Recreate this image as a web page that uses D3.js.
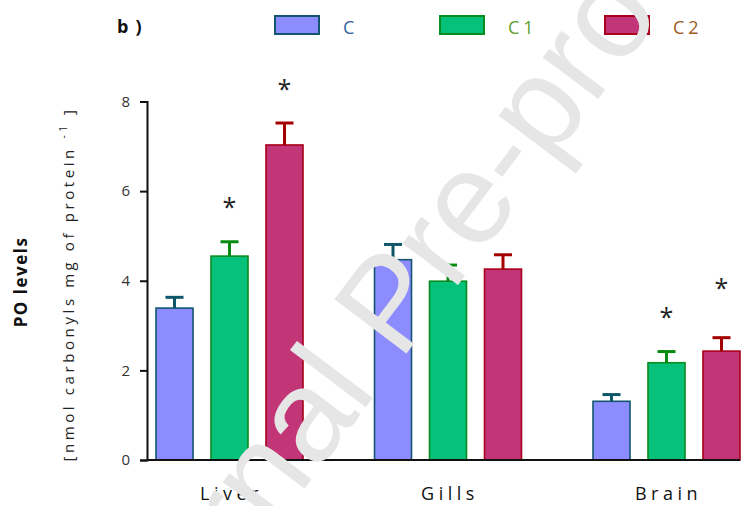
<!DOCTYPE html>
<html>
<head>
<meta charset="utf-8">
<script src="https://cdn.jsdelivr.net/npm/d3@7"></script>
<style>
  body { margin: 0; background: white; }
  svg { display: block; font-family: "Open Sans", sans-serif; }
</style>
</head>
<body>
<div id="chart"></div>
<script>
// tissues and treatment groups
const tissues = ["Liver", "Gills", "Brain"];
const series = ["C", "C1", "C2"];

// PO levels (mean) and error (SE) per series, in tissue order
const valC = [3.39, 4.47, 1.31];
const valC1 = [4.55, 3.99, 2.17];
const valC2 = [7.03, 4.26, 2.43];
const errC = [0.24, 0.34, 0.15];
const errC1 = [0.32, 0.36, 0.25];
const errC2 = [0.49, 0.32, 0.30];

// significance stars: tissue, series, level where the star sits
const starTissue = ["Liver", "Liver", "Brain", "Brain"];
const starSeries = ["C1", "C2", "C1", "C2"];
const starLevel = [5.75, 8.4, 3.3, 3.94];

const yTicks = [0, 2, 4, 6, 8];

const fills = { C: "#8c8cff", C1: "#05c17a", C2: "#c23577" };
const strokes = { C: "#13566e", C1: "#0a8c1e", C2: "#a8001a" };
const errCol = { C: "#0e5668", C1: "#078a10", C2: "#a50000" };
const legendText = { C: "#3465a4", C1: "#5e9e2e", C2: "#9c5a1e" };

const values = { C: valC, C1: valC1, C2: valC2 };
const errors = { C: errC, C1: errC1, C2: errC2 };

const rows = [];
tissues.forEach((t, i) => {
  series.forEach(s => {
    rows.push({ tissue: t, series: s, value: values[s][i], err: errors[s][i] });
  });
});

const width = 742, height = 506;
const svg = d3.select("#chart").append("svg")
  .attr("width", width)
  .attr("height", height);

const y = d3.scaleLinear().domain([0, 8]).range([460, 101.5]);

const x0 = d3.scalePoint().domain(tissues).range([229.5, 666.5]);
const x1 = d3.scaleBand().domain(series).range([-73.5, 73.5]).paddingInner(0.327);

// bars
svg.append("g")
  .selectAll("rect")
  .data(rows)
  .join("rect")
  .attr("x", d => x0(d.tissue) + x1(d.series))
  .attr("y", d => y(d.value))
  .attr("width", x1.bandwidth())
  .attr("height", d => y(0) - y(d.value))
  .attr("fill", d => fills[d.series])
  .attr("stroke", d => strokes[d.series])
  .attr("stroke-width", 1.6);

// error bars (upper only)
const eb = svg.append("g")
  .selectAll("g")
  .data(rows)
  .join("g")
  .attr("stroke", d => errCol[d.series])
  .attr("stroke-width", 3);
eb.append("line")
  .attr("x1", d => x0(d.tissue) + x1(d.series) + x1.bandwidth() / 2)
  .attr("x2", d => x0(d.tissue) + x1(d.series) + x1.bandwidth() / 2)
  .attr("y1", d => y(d.value))
  .attr("y2", d => y(d.value + d.err));
eb.append("line")
  .attr("x1", d => x0(d.tissue) + x1(d.series) + x1.bandwidth() / 2 - 9)
  .attr("x2", d => x0(d.tissue) + x1(d.series) + x1.bandwidth() / 2 + 9)
  .attr("y1", d => y(d.value + d.err))
  .attr("y2", d => y(d.value + d.err));

// stars
svg.append("g")
  .selectAll("text")
  .data(starLevel)
  .join("text")
  .attr("x", (d, i) => x0(starTissue[i]) + x1(starSeries[i]) + x1.bandwidth() / 2)
  .attr("y", d => y(d) + 14)
  .attr("text-anchor", "middle")
  .attr("font-size", 25)
  .attr("fill", "#222")
  .text("*");

// y axis
const yAxis = svg.append("g")
  .attr("transform", "translate(147,0)")
  .call(d3.axisLeft(y).tickValues(yTicks).tickSize(7).tickPadding(10).tickFormat(d3.format("d")));
yAxis.select(".domain").attr("stroke", "#111").attr("stroke-width", 2);
yAxis.selectAll(".tick line").attr("stroke", "#111").attr("stroke-width", 2);
yAxis.selectAll(".tick text")
  .attr("font-size", 15)
  .attr("fill", "#333")
  .attr("font-family", "'Open Sans', sans-serif");

// x axis line
svg.append("line")
  .attr("x1", 147).attr("x2", 740)
  .attr("y1", y(0)).attr("y2", y(0))
  .attr("stroke", "#111").attr("stroke-width", 2);

// x labels
svg.append("g")
  .selectAll("text")
  .data(tissues)
  .join("text")
  .attr("x", d => x0(d) + 2)
  .attr("y", 500)
  .attr("text-anchor", "middle")
  .attr("font-size", 18)
  .attr("letter-spacing", 4.5)
  .attr("fill", "#111")
  .text(d => d);

// y axis titles
svg.append("text")
  .attr("transform", "translate(27,282) rotate(-90)")
  .attr("text-anchor", "middle")
  .attr("font-size", 17)
  .attr("font-weight", "bold")
  .attr("letter-spacing", 1.5)
  .attr("fill", "#111")
  .text("PO levels");

const unit = svg.append("text")
  .attr("transform", "translate(74,284) rotate(-90)")
  .attr("text-anchor", "middle")
  .attr("font-size", 15)
  .attr("letter-spacing", 3.6)
  .attr("fill", "#222");
unit.append("tspan").text("[nmol carbonyls mg of protein ");
unit.append("tspan").attr("dy", -7).attr("font-size", 10).text("-1");
unit.append("tspan").attr("dy", 7).text(" ]");

// panel letter
svg.append("text")
  .attr("x", 117).attr("y", 33)
  .attr("font-size", 18)
  .attr("font-weight", "bold")
  .attr("letter-spacing", 7)
  .attr("fill", "#111")
  .text("b)");

// legend
const lx = d3.scalePoint().domain(series).range([275, 605]);
const lg = svg.append("g")
  .selectAll("g")
  .data(series)
  .join("g")
  .attr("transform", d => `translate(${lx(d)},16)`);
lg.append("rect")
  .attr("width", 44).attr("height", 18)
  .attr("fill", d => fills[d])
  .attr("stroke", d => strokes[d])
  .attr("stroke-width", 2);
lg.append("text")
  .attr("x", 68).attr("y", 18)
  .attr("font-size", 18)
  .attr("letter-spacing", 4)
  .attr("fill", d => legendText[d])
  .text(d => d);

// watermark
svg.append("text")
  .attr("transform", "translate(424,330) rotate(-53)")
  .attr("text-anchor", "middle")
  .attr("font-family", "Liberation Sans, Arial, sans-serif")
  .attr("font-size", 131)
  .attr("fill", "#e6e6e6")
  .text("Journal Pre-proof");
</script>
</body>
</html>
